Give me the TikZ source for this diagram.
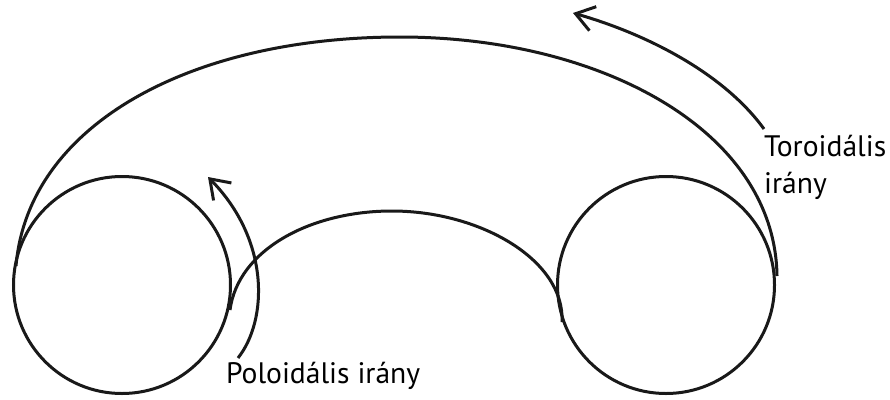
\documentclass[tikz,border=0pt]{standalone}
\usepackage{fontspec}
\setmainfont{PT Sans}
\usetikzlibrary{arrows.meta}
\tikzset{curve/.style={line width=3pt,black!90},
arr/.style={curve,-{Straight Barb[length=18pt,width=25pt,line width=3pt]}},
lab/.style={font=\fontsize{29.6pt}{37pt}\selectfont,inner sep=0pt,align=left,text=black}}
\begin{document}
\begin{tikzpicture}[x=1pt,y=-1pt]
\useasboundingbox (0,0) rectangle (890,399);
\node[curve,draw,circle,minimum size=217pt,inner sep=0pt] (L) at (122,285) {};
\node[curve,draw,circle,minimum size=217pt,inner sep=0pt] (R) at (666,285) {};
\coordinate (a1) at (16,266);
\coordinate (a2) at (777,276);
\draw[curve] (a1) .. controls (28,125) and (190,37) .. (400,37) .. controls (600,37) and (775,130) .. (a2);
\coordinate (b1) at (230,310);
\coordinate (b2) at (562,322);
\draw[curve] (b1) .. controls (238,250) and (310,211) .. (392,211) .. controls (480,211) and (565,260) .. (b2);
\coordinate (c1) at (238,358);
\coordinate (c2) at (208,177);
\draw[arr] (c1) .. controls (268,320) and (270,240) .. (c2);
\coordinate (d1) at (764,129);
\coordinate (d2) at (573,13);
\draw[arr] (d1) .. controls (725,75) and (650,35) .. (d2);
\node[lab,anchor=base west] (p) at (226,383) {Poloidális irány};
\node[lab,anchor=base west] (t) at (764,193) {Toroidális\\irány};
\end{tikzpicture}
\end{document}
